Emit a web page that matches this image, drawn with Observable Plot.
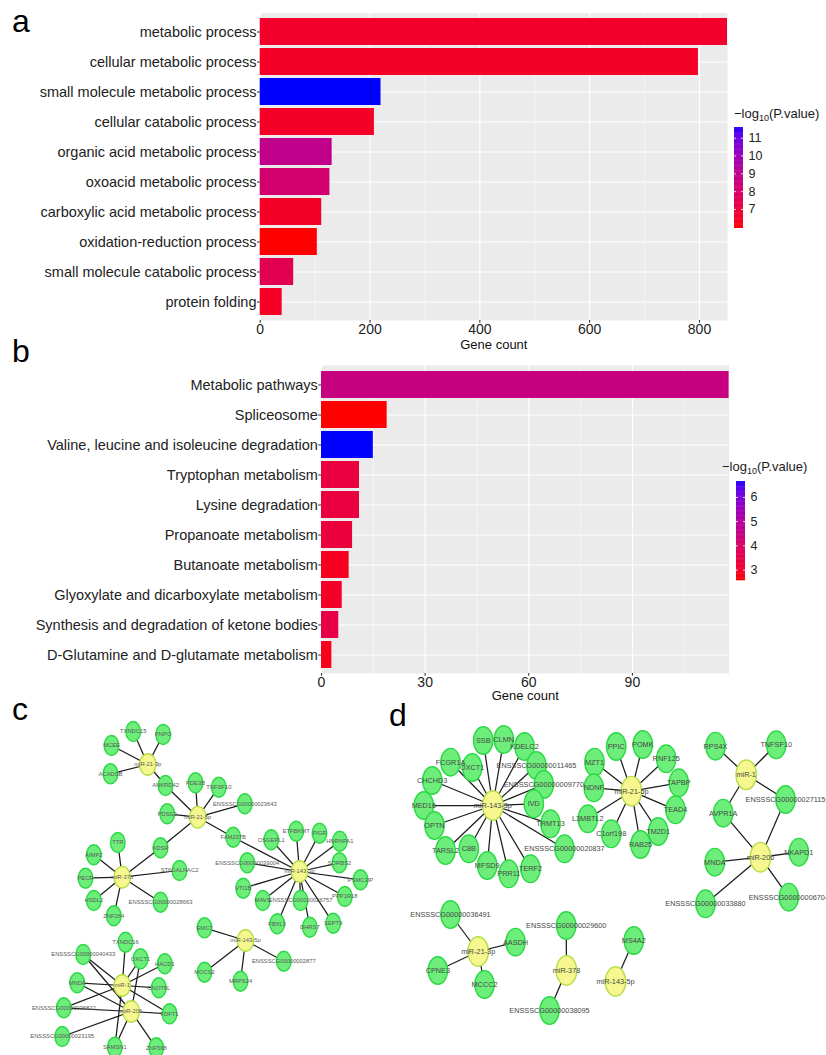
<!DOCTYPE html>
<html><head><meta charset="utf-8">
<script src="https://cdn.jsdelivr.net/npm/d3@7"></script>
<script src="https://cdn.jsdelivr.net/npm/@observablehq/plot@0.6"></script>
<style>
body{margin:0;background:#fff;font-family:"Liberation Sans",Arial,sans-serif;}
#fig{position:relative;width:826px;height:1055px;overflow:hidden;background:#fff;}
#fig > svg, #fig > div{position:absolute;}
.plbl{font-size:32px;line-height:32px;color:#000;}
.ltitle{font-size:13px;line-height:13px;color:#1a1a1a;white-space:nowrap;}
.ltitle sub{font-size:9px;vertical-align:-3px;line-height:0;}
</style></head><body><div id="fig"></div>
<script>
// ---------- Panel a: GO terms ----------
const goTerms = ["metabolic process","cellular metabolic process","small molecule metabolic process","cellular catabolic process","organic acid metabolic process","oxoacid metabolic process","carboxylic acid metabolic process","oxidation-reduction process","small molecule catabolic process","protein folding"];
const goCounts = [851, 798, 220, 208, 131, 127, 112, 104, 61, 40];
const goLogP = [6.55, 6.45, 11.6, 6.45, 8.8, 8.1, 6.45, 5.93, 7.4, 6.4];
const goTicks = [0, 200, 400, 600, 800];
const goMinor = [100, 300, 500, 700];
const goLegendTicks = [7, 8, 9, 10, 11];

// ---------- Panel b: KEGG pathways ----------
const keggTerms = ["Metabolic pathways","Spliceosome","Valine, leucine and isoleucine degradation","Tryptophan metabolism","Lysine degradation","Propanoate metabolism","Butanoate metabolism","Glyoxylate and dicarboxylate metabolism","Synthesis and degradation of ketone bodies","D-Glutamine and D-glutamate metabolism"];
const keggCounts = [118, 19, 15, 11, 11, 9, 8, 6, 5, 3];
const keggLogP = [4.45, 2.56, 6.66, 3.3, 3.3, 3.25, 2.85, 2.95, 3.45, 2.8];
const keggTicks = [0, 30, 60, 90];
const keggMinor = [15, 45, 75, 105];
const keggLegendTicks = [3, 4, 5, 6];

// ---------- Panel c: network (layout positions) ----------
const cNodes = [
 ["miR-21-3p",147.3,74],["TXNDC15",132.7,41],["PNPO",162.7,44],["MCEE",111,55],["ACADSB",110,83.3],["ANKRD42",165,95],
 ["miR-21-5p",197.3,126.7],["PDE3B",195,92.3],["TNFSF10",218.3,96.7],["ENSSSCG00000023643",244.3,113.3],["PDSS2",166.7,123.3],["FAM237B",232.7,146.7],["KDSR",160,157.3],
 ["miR-378",121.7,186.7],["TTR",117.3,152],["AIMP2",93.3,164.3],["PECR",85,187.7],["HSDL2",93.3,210],["ZNF264",113.3,225.3],["ENSSSCG00000028663",160,211.7],["ST6GALNAC2",179,180],
 ["miR-143-3p",299,181],["OSGEPL1",270.7,149.3],["ETFBKMT",295.7,140.7],["PIGR",319,142.7],["HNRNPA1",339.3,150.7],["SORBS2",339,172.3],["PSMC3IP",360,189.3],["PPP1R18",344.3,206],["SEPT9",332.7,232.7],["DHRS7",309.3,236.7],["FBXL3",276.7,233.3],["ENSSSCG00000026757",300,210],["MAVS",262.3,210],["VTI1B",242.7,197.7],["ENSSSCG00000039004",246.7,172.3],
 ["miR-143-5p",245,250],["EMC7",204,237.3],["MOCS2",204,281.7],["MRPS24",240,290.7],["ENSSSCG00000002877",283.3,270.7],
 ["miR-1",121.7,295],["miR-206",130.7,321],["TXNDC16",125,251.7],["ENSSSCG00000040433",82.7,264],["OXCT1",140,268.3],["HACD1",164.3,273.3],["MNDA",76.7,292.3],["CNOT6L",158.3,297.3],["ENSSSCG00000036822",63.3,317.3],["FDFT1",169,323.3],["ENSSSCG00000023195",61.7,346],["SAMSN1",114.3,356.7],["ZNF568",155.7,357.3]
];
const cEdges = [
 ["miR-21-3p",["TXNDC15","PNPO","MCEE","ACADSB","ANKRD42"]],
 ["miR-21-5p",["ANKRD42","PDE3B","TNFSF10","ENSSSCG00000023643","PDSS2","FAM237B","KDSR"]],
 ["miR-378",["KDSR","TTR","AIMP2","PECR","HSDL2","ZNF264","ENSSSCG00000028663","ST6GALNAC2"]],
 ["miR-143-3p",["FAM237B","OSGEPL1","ETFBKMT","PIGR","HNRNPA1","SORBS2","PSMC3IP","PPP1R18","SEPT9","DHRS7","FBXL3","ENSSSCG00000026757","MAVS","VTI1B","ENSSSCG00000039004"]],
 ["miR-143-5p",["EMC7","MOCS2","MRPS24","ENSSSCG00000002877"]],
 ["miR-1",["TXNDC16","ENSSSCG00000040433","OXCT1","HACD1","MNDA","CNOT6L","ENSSSCG00000036822","FDFT1","SAMSN1"]],
 ["miR-206",["ENSSSCG00000040433","MNDA","ENSSSCG00000036822","FDFT1","ENSSSCG00000023195","SAMSN1","ZNF568","OXCT1"]]
];

// ---------- Panel d: network (layout positions) ----------
const dNodes = [
 ["miR-143-3p",92.3,115],["SSB",82.7,50],["CLMN",103.3,49],["KDELC2",124,56],["ENSSSCG00000011465",136,75],["FCGR1A",50,71.7],["OXCT1",71.7,77],["CHCHD3",31.7,90],["ENSSSCG00000009770",143.3,94],["MED16",23.3,115],["IVD",133.3,113.3],["OPTN",34,135],["TRMT13",150,133.3],["TARSL2",45,160],["C8B",68.3,158.3],["ENSSSCG00000020837",164,158.3],["MFSD9",86.7,175],["PRR11",108.3,183.3],["TERF2",130,178.3],
 ["miR-21-5p",231,100.7],["PPIC",215.7,56],["POMK",242.3,54],["MZT1",194,71.7],["RNF125",265.7,68.3],["NDNF",193.3,97.3],["TAPBP",278.3,92.3],["L3MBTL2",187.3,128.3],["TEAD4",275,119.3],["C1orf198",210.7,143.3],["TM2D1",257.7,141],["RAB25",240,154],
 ["miR-1",345.7,84.3],["RPS4X",315,55.7],["TNFSF10",375.7,54.3],["ENSSSCG00000027115",385,109],["AVPR1A",322.7,122.7],
 ["miR-206",360,166.7],["MNDA",314.3,171.7],["NKAPD1",398.3,161.7],["ENSSSCG00000033880",305,213.3],["ENSSSCG00000006704",388.3,206.7],
 ["miR-21-3p",77.7,261],["ENSSSCG00000036491",50,224],["AASDH",115,251.7],["CPNE3",37.3,280],["MCCC2",84,294],
 ["miR-378",166,280],["ENSSSCG00000029600",165.7,235],["ENSSSCG00000038095",149,320],
 ["miR-143-5p",215,291],["MS4A2",233.3,250]
];
const dEdges = [
 ["miR-143-3p",["SSB","CLMN","KDELC2","ENSSSCG00000011465","FCGR1A","OXCT1","CHCHD3","ENSSSCG00000009770","MED16","IVD","OPTN","TRMT13","TARSL2","C8B","ENSSSCG00000020837","MFSD9","PRR11","TERF2"]],
 ["miR-21-5p",["PPIC","POMK","MZT1","RNF125","NDNF","TAPBP","L3MBTL2","TEAD4","C1orf198","TM2D1","RAB25"]],
 ["miR-1",["RPS4X","TNFSF10","ENSSSCG00000027115","AVPR1A"]],
 ["miR-206",["AVPR1A","ENSSSCG00000027115","MNDA","NKAPD1","ENSSSCG00000033880","ENSSSCG00000006704"]],
 ["miR-21-3p",["ENSSSCG00000036491","AASDH","CPNE3","MCCC2"]],
 ["miR-378",["ENSSSCG00000029600","ENSSSCG00000038095"]],
 ["miR-143-5p",["MS4A2"]]
];

// ---------- helpers ----------
const FONT = "'Liberation Sans', Arial, Helvetica, sans-serif";
const fig = document.getElementById("fig");
function place(el, left, top) { el.style.left = left + "px"; el.style.top = top + "px"; fig.appendChild(el); return el; }
function html(cls, inner, left, top) { const d = document.createElement("div"); d.className = cls; d.innerHTML = inner; return place(d, left, top); }

function barChart({terms, counts, logp, ticks, minor, width, height, ml, mr, mt, mb, labelDy}) {
  const data = terms.map((t, i) => ({term: t, count: counts[i], p: logp[i]}));
  return Plot.plot({
    width, height, marginLeft: ml, marginRight: mr, marginTop: mt, marginBottom: mb,
    style: {fontFamily: FONT, background: "transparent", overflow: "visible"},
    x: {domain: [0, d3.max(counts)], label: null},
    y: {domain: terms, paddingInner: 0.1, paddingOuter: 0.15, label: null},
    color: {type: "linear", domain: d3.extent(logp), range: ["red", "blue"], interpolate: "lab"},
    marks: [
      Plot.frame({fill: "#EBEBEB", stroke: "none"}),
      Plot.ruleX(minor, {stroke: "white", strokeWidth: 0.55}),
      Plot.ruleX(ticks, {stroke: "white", strokeWidth: 1.1}),
      Plot.ruleY(terms, {y: d => d, stroke: "white", strokeWidth: 1.1}),
      Plot.barX(data, {x: "count", y: "term", fill: "p"}),
      Plot.axisX({ticks, tickSize: 2.7, tickPadding: 0.5, fontSize: 14, color: "#222", label: null}),
      Plot.axisY({tickSize: 2.7, tickPadding: 1, fontSize: 14.5, color: "#222", label: null}),
      Plot.text(["Gene count"], {frameAnchor: "bottom", lineAnchor: "middle", dy: labelDy, fontSize: 13, fill: "#111"})
    ]
  });
}

function colorbar({logp, ticks, barHeight}) {
  const domain = d3.extent(logp);
  const n = 120, step = (domain[1] - domain[0]) / n;
  const steps = d3.range(n).map(i => domain[0] + i * step);
  return Plot.plot({
    width: 60, height: barHeight, marginLeft: 0, marginRight: 51, marginTop: 0, marginBottom: 0,
    style: {fontFamily: FONT, background: "transparent", overflow: "visible"},
    x: {domain: [0, 1], axis: null},
    y: {domain, label: null, axis: null},
    color: {type: "linear", domain, range: ["red", "blue"], interpolate: "lab"},
    marks: [
      Plot.rect(steps, {x1: 0, x2: 1, y1: d => d, y2: d => Math.min(d + step * 1.6, domain[1]), fill: d => d}),
      Plot.ruleY(ticks, {y: d => d, x1: 0, x2: 0.22, stroke: "white", strokeWidth: 0.8}),
      Plot.ruleY(ticks, {y: d => d, x1: 0.78, x2: 1, stroke: "white", strokeWidth: 0.8}),
      Plot.axisY({anchor: "right", ticks, tickFormat: d => String(d), tickSize: 0, tickPadding: 5, fontSize: 12.5, color: "#222", label: null})
    ]
  });
}

function ellipse(aspect) {
  return {draw(ctx, size) {
    const r = Math.sqrt(size / Math.PI), ry = r, rx = r * aspect, k = 0.5522847;
    ctx.moveTo(rx, 0);
    ctx.bezierCurveTo(rx, k * ry, k * rx, ry, 0, ry);
    ctx.bezierCurveTo(-k * rx, ry, -rx, k * ry, -rx, 0);
    ctx.bezierCurveTo(-rx, -k * ry, -k * rx, -ry, 0, -ry);
    ctx.bezierCurveTo(k * rx, -ry, rx, -k * ry, rx, 0);
    ctx.closePath();
  }};
}

function network(nodes, edges, o) {
  const nodeData = nodes.map(([name, x, y]) => ({name, x, y, hub: name.startsWith("miR")}));
  const byName = new Map(nodeData.map(d => [d.name, d]));
  const links = edges.flatMap(([hub, ts]) => ts.map(t => ({a: byName.get(hub), b: byName.get(t)})));
  return Plot.plot({
    width: o.width, height: o.height, margin: 0,
    style: {fontFamily: FONT, background: "transparent"},
    x: {domain: [0, o.width], range: [0, o.width], axis: null},
    y: {domain: [0, o.height], range: [0, o.height], axis: null},
    marks: [
      Plot.link(links, {x1: d => d.a.x, y1: d => d.a.y, x2: d => d.b.x, y2: d => d.b.y, stroke: "#1c1c1c", strokeWidth: 1.25}),
      Plot.dot(nodeData.filter(d => !d.hub), {x: "x", y: "y", r: o.rT, symbol: ellipse(o.aT), fill: "#6DEE7A", stroke: "#2CD946", strokeWidth: 1.4}),
      Plot.dot(nodeData.filter(d => d.hub), {x: "x", y: "y", r: o.rH, symbol: ellipse(o.aH), fill: "#F6F78E", stroke: "#B4DE4A", strokeWidth: 1.4}),
      Plot.text(nodeData, {x: "x", y: "y", text: "name", fontSize: o.font, fill: o.textColor})
    ]
  });
}

// ---------- assemble ----------
place(barChart({terms: goTerms, counts: goCounts, logp: goLogP, ticks: goTicks, minor: goMinor,
  width: 730, height: 350, ml: 259.7, mr: 3, mt: 12.6, mb: 30, labelDy: 24}), 0, 0);
html("ltitle", "\u2212log<sub>10</sub>(P.value)", 734, 106.5);
place(colorbar({logp: goLogP, ticks: goLegendTicks, barHeight: 101}), 734, 127);

place(barChart({terms: keggTerms, counts: keggCounts, logp: keggLogP, ticks: keggTicks, minor: keggMinor,
  width: 730, height: 352, ml: 321, mr: 1.4, mt: 17, mb: 27, labelDy: 22}), 0, 348);
html("ltitle", "\u2212log<sub>10</sub>(P.value)", 722, 459.5);
place(colorbar({logp: keggLogP, ticks: keggLegendTicks, barHeight: 99.3}), 736, 480.7);

place(network(cNodes, cEdges, {width: 400, height: 365, rT: 10, aT: 0.73, rH: 10.8, aH: 0.76, font: 5.8, textColor: "#5a5a5a"}), 0, 690);
place(network(dNodes, dEdges, {width: 426, height: 365, rT: 13.8, aT: 0.7, rH: 14.8, aH: 0.69, font: 7.3, textColor: "#474747"}), 400, 690);

html("plbl", "a", 12, 5);
html("plbl", "b", 12, 335);
html("plbl", "c", 12, 693);
html("plbl", "d", 389, 699);
</script></body></html>
